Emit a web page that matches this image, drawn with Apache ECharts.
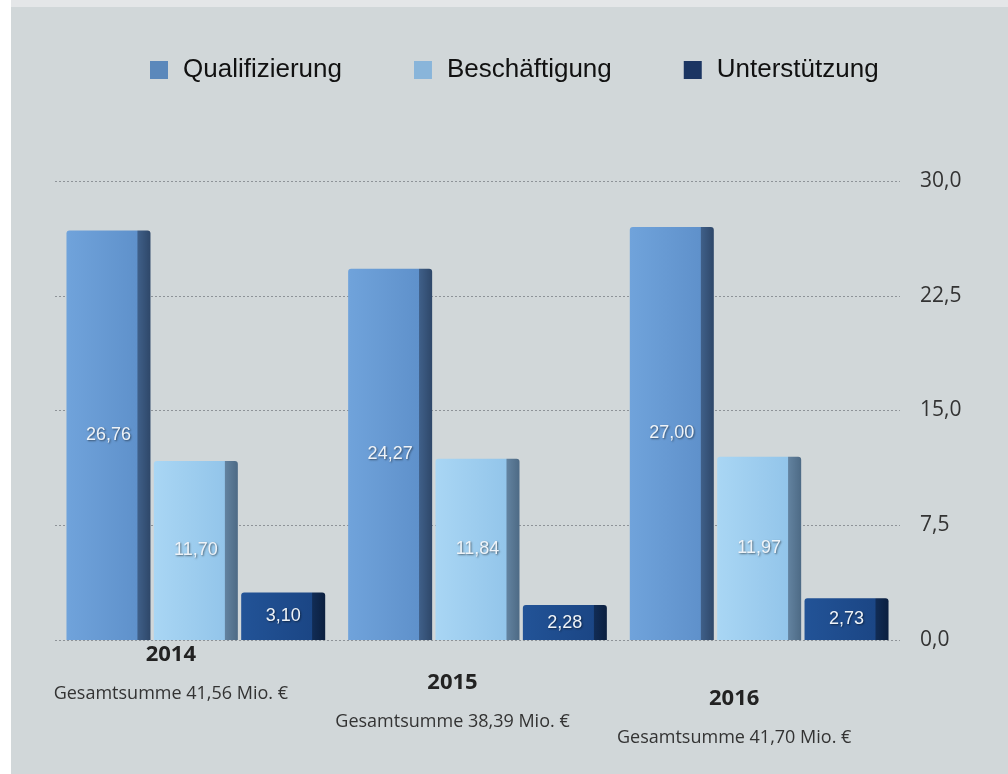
<!DOCTYPE html>
<html>
<head>
<meta charset="utf-8">
<script src="https://cdn.jsdelivr.net/npm/echarts@6/dist/echarts.min.js"></script>
<style>
  html, body { margin: 0; padding: 0; background: #ffffff; }
  .frame { position: absolute; left: 11px; top: 0; width: 997px; height: 774px; background: #e4e6e8; }
  #chart { position: absolute; left: 11px; top: 7px; width: 997px; height: 767px; background: #d1d7d9; }
</style>
</head>
<body>
<div class="frame"></div>
<div id="chart"></div>
<script>
var years = ["2014", "2015", "2016"];
var qualifizierung = [26.76, 24.27, 27.00];
var beschaeftigung = [11.70, 11.84, 11.97];
var unterstuetzung = [3.10, 2.28, 2.73];
var yTicks = [0, 7.5, 15, 22.5, 30];

function deNum(v, d) {
  return v.toFixed(d).replace(".", ",");
}

// Gesamtsumme je Jahr
var totals = years.map(function (y, i) {
  return qualifizierung[i] + beschaeftigung[i] + unterstuetzung[i];
});

// versetzte Beschriftung wie in der Perspektive
var labelShift = [0, 28, 44];

var chart = echarts.init(document.getElementById("chart"));

function face(c1, c2, side1, side2) {
  return new echarts.graphic.LinearGradient(0, 0, 1, 0, [
    { offset: 0, color: c1 },
    { offset: 0.84, color: c2 },
    { offset: 0.85, color: side1 },
    { offset: 1, color: side2 }
  ]);
}

var barLabel = {
  show: true,
  position: "inside",
  fontFamily: "Liberation Sans",
  fontSize: 18,
  color: "#eef3f8",
  textShadowColor: "rgba(0,0,0,0.5)",
  textShadowBlur: 2,
  textShadowOffsetX: 1,
  textShadowOffsetY: 1,
  formatter: function (p) { return deNum(p.value, 2); }
};

chart.setOption({
  animation: false,
  legend: {
    left: 134,
    top: 45,
    itemWidth: 18,
    itemHeight: 18,
    itemGap: 72,
    icon: "rect",
    textStyle: {
      fontFamily: "Liberation Sans",
      fontSize: 26,
      color: "#111",
      padding: [0, 0, 0, 10]
    },
    data: [
      { name: "Qualifizierung", itemStyle: { color: "#5b88bb" } },
      { name: "Beschäftigung", itemStyle: { color: "#89b5da" } },
      { name: "Unterstützung", itemStyle: { color: "#1b3562" } }
    ]
  },
  grid: { left: 44, right: 108, top: 174, bottom: 134 },
  xAxis: {
    type: "category",
    data: years.map(function (y, i) {
      return {
        value: y,
        textStyle: { padding: [labelShift[i], 50, 0, 0] }
      };
    }),
    axisLine: { show: false },
    axisTick: { show: false },
    axisLabel: {
      margin: 0,
      interval: 0,
      formatter: function (v, i) {
        return "{y|" + v + "}\n{s|Gesamtsumme " + deNum(totals[i], 2) + " Mio. €}";
      },
      rich: {
        y: { fontFamily: "Open Sans", fontWeight: "bold", fontSize: 22, color: "#222", lineHeight: 30 },
        s: { fontFamily: "Open Sans", fontSize: 18, color: "#333", lineHeight: 48 }
      }
    }
  },
  yAxis: {
    type: "value",
    position: "right",
    min: 0,
    max: 30,
    interval: 7.5,
    axisLine: { show: false },
    axisTick: { show: false },
    axisLabel: {
      margin: 20,
      fontFamily: "Open Sans",
      fontSize: 21,
      color: "#333",
      formatter: function (v) {
        return yTicks.indexOf(v) >= 0 ? deNum(v, 1) : "";
      }
    },
    splitLine: {
      lineStyle: { color: "#8e9398", type: [2, 2], width: 1 }
    }
  },
  series: [
    {
      name: "Qualifizierung",
      type: "bar",
      barWidth: 84,
      barGap: "4%",
      data: qualifizierung,
      itemStyle: {
        color: face("#70a3db", "#5f91cb", "#3f5f88", "#2e4769"),
        borderRadius: [3, 3, 0, 0]
      },
      label: barLabel
    },
    {
      name: "Beschäftigung",
      type: "bar",
      barWidth: 84,
      barGap: "4%",
      data: beschaeftigung,
      itemStyle: {
        color: face("#a9d6f4", "#93c5ea", "#62829f", "#4d6a85"),
        borderRadius: [3, 3, 0, 0]
      },
      label: barLabel
    },
    {
      name: "Unterstützung",
      type: "bar",
      barWidth: 84,
      barGap: "4%",
      data: unterstuetzung,
      itemStyle: {
        color: face("#225397", "#1b4685", "#112c55", "#0b1f3f"),
        borderRadius: [3, 3, 0, 0]
      },
      label: barLabel
    }
  ]
});
</script>
</body>
</html>
